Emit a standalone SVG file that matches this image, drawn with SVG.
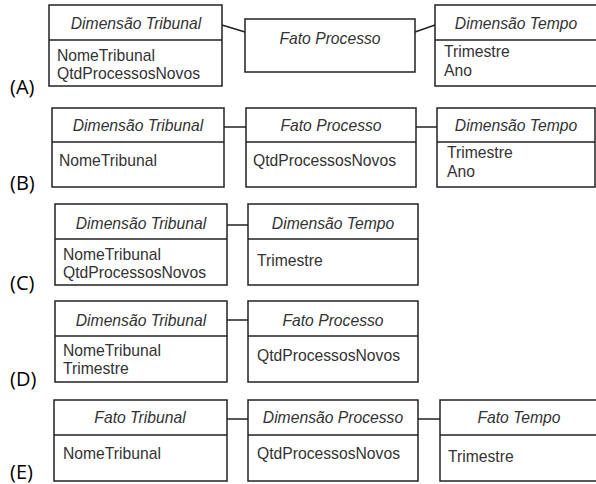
<svg xmlns="http://www.w3.org/2000/svg" width="596" height="484" viewBox="0 0 596 484">
<style>
.box{fill:#fff;stroke:#222;stroke-width:1.5}
.div{stroke:#222;stroke-width:1.5}
.con{stroke:#222;stroke-width:1.5;fill:none}
.t{font-family:"Liberation Sans",Arial,sans-serif;font-size:15.7px;font-style:italic;fill:#333;text-anchor:middle}
.a{font-family:"Liberation Sans",Arial,sans-serif;font-size:15.7px;fill:#333}
.lbl{font-family:"Open Sans",sans-serif;font-size:20px;fill:#000}
</style>
<rect width="596" height="484" fill="#fff"/>
<g id="connectors">
<line class="con" x1="222" y1="25" x2="245" y2="32"/>
<line class="con" x1="415" y1="32" x2="435" y2="25"/>
<line class="con" x1="224" y1="127" x2="246" y2="127"/>
<line class="con" x1="416" y1="127" x2="437" y2="127"/>
<line class="con" x1="227" y1="225" x2="248" y2="225"/>
<line class="con" x1="227" y1="320" x2="248" y2="320"/>
<line class="con" x1="227" y1="419" x2="248" y2="419"/>
<line class="con" x1="418" y1="419" x2="440" y2="419"/>
</g>
<g id="labels">
<text class="lbl" x="10" y="94">(A)</text>
<text class="lbl" x="10" y="190">(B)</text>
<text class="lbl" x="10" y="290">(C)</text>
<text class="lbl" x="10" y="386">(D)</text>
<text class="lbl" x="10" y="479">(E)</text>
</g>
<g id="a-tribunal">
<rect class="box" x="49" y="5" width="173" height="81"/>
<line class="div" x1="49" y1="40" x2="222" y2="40"/>
<text class="t" x="136" y="29">Dimensão Tribunal</text>
<text class="a" x="57" y="61">NomeTribunal</text>
<text class="a" x="57" y="79">QtdProcessosNovos</text>
</g>
<g id="a-processo">
<rect class="box" x="245" y="19" width="170" height="53"/>
<text class="t" x="330" y="44">Fato Processo</text>
</g>
<g id="a-tempo">
<rect class="box" x="435" y="5" width="170" height="81"/>
<line class="div" x1="435" y1="40" x2="605" y2="40"/>
<text class="t" x="516" y="29">Dimensão Tempo</text>
<text class="a" x="444" y="57">Trimestre</text>
<text class="a" x="444" y="76">Ano</text>
</g>
<g id="b-tribunal">
<rect class="box" x="52" y="108" width="172" height="79"/>
<line class="div" x1="52" y1="142" x2="224" y2="142"/>
<text class="t" x="138" y="131">Dimensão Tribunal</text>
<text class="a" x="59" y="166">NomeTribunal</text>
</g>
<g id="b-processo">
<rect class="box" x="246" y="108" width="170" height="79"/>
<line class="div" x1="246" y1="142" x2="416" y2="142"/>
<text class="t" x="331" y="131">Fato Processo</text>
<text class="a" x="253" y="166">QtdProcessosNovos</text>
</g>
<g id="b-tempo">
<rect class="box" x="437" y="108" width="158" height="79"/>
<line class="div" x1="437" y1="142" x2="595" y2="142"/>
<text class="t" x="516" y="131">Dimensão Tempo</text>
<text class="a" x="447" y="158">Trimestre</text>
<text class="a" x="447" y="177">Ano</text>
</g>
<g id="c-tribunal">
<rect class="box" x="55" y="204" width="172" height="81"/>
<line class="div" x1="55" y1="239" x2="227" y2="239"/>
<text class="t" x="141" y="229">Dimensão Tribunal</text>
<text class="a" x="63" y="260">NomeTribunal</text>
<text class="a" x="63" y="278">QtdProcessosNovos</text>
</g>
<g id="c-tempo">
<rect class="box" x="248" y="204" width="170" height="81"/>
<line class="div" x1="248" y1="239" x2="418" y2="239"/>
<text class="t" x="333" y="229">Dimensão Tempo</text>
<text class="a" x="257" y="266">Trimestre</text>
</g>
<g id="d-tribunal">
<rect class="box" x="55" y="301" width="172" height="81"/>
<line class="div" x1="55" y1="336" x2="227" y2="336"/>
<text class="t" x="141" y="326">Dimensão Tribunal</text>
<text class="a" x="63" y="356">NomeTribunal</text>
<text class="a" x="63" y="374">Trimestre</text>
</g>
<g id="d-processo">
<rect class="box" x="248" y="301" width="170" height="81"/>
<line class="div" x1="248" y1="336" x2="418" y2="336"/>
<text class="t" x="333" y="326">Fato Processo</text>
<text class="a" x="257" y="361">QtdProcessosNovos</text>
</g>
<g id="e-tribunal">
<rect class="box" x="54" y="400" width="173" height="81"/>
<line class="div" x1="54" y1="435" x2="227" y2="435"/>
<text class="t" x="140" y="423">Fato Tribunal</text>
<text class="a" x="63" y="459">NomeTribunal</text>
</g>
<g id="e-processo">
<rect class="box" x="248" y="400" width="170" height="81"/>
<line class="div" x1="248" y1="435" x2="418" y2="435"/>
<text class="t" x="333" y="423">Dimensão Processo</text>
<text class="a" x="257" y="459">QtdProcessosNovos</text>
</g>
<g id="e-tempo">
<rect class="box" x="440" y="400" width="165" height="81"/>
<line class="div" x1="440" y1="435" x2="605" y2="435"/>
<text class="t" x="519" y="423">Fato Tempo</text>
<text class="a" x="448" y="462">Trimestre</text>
</g>
</svg>
